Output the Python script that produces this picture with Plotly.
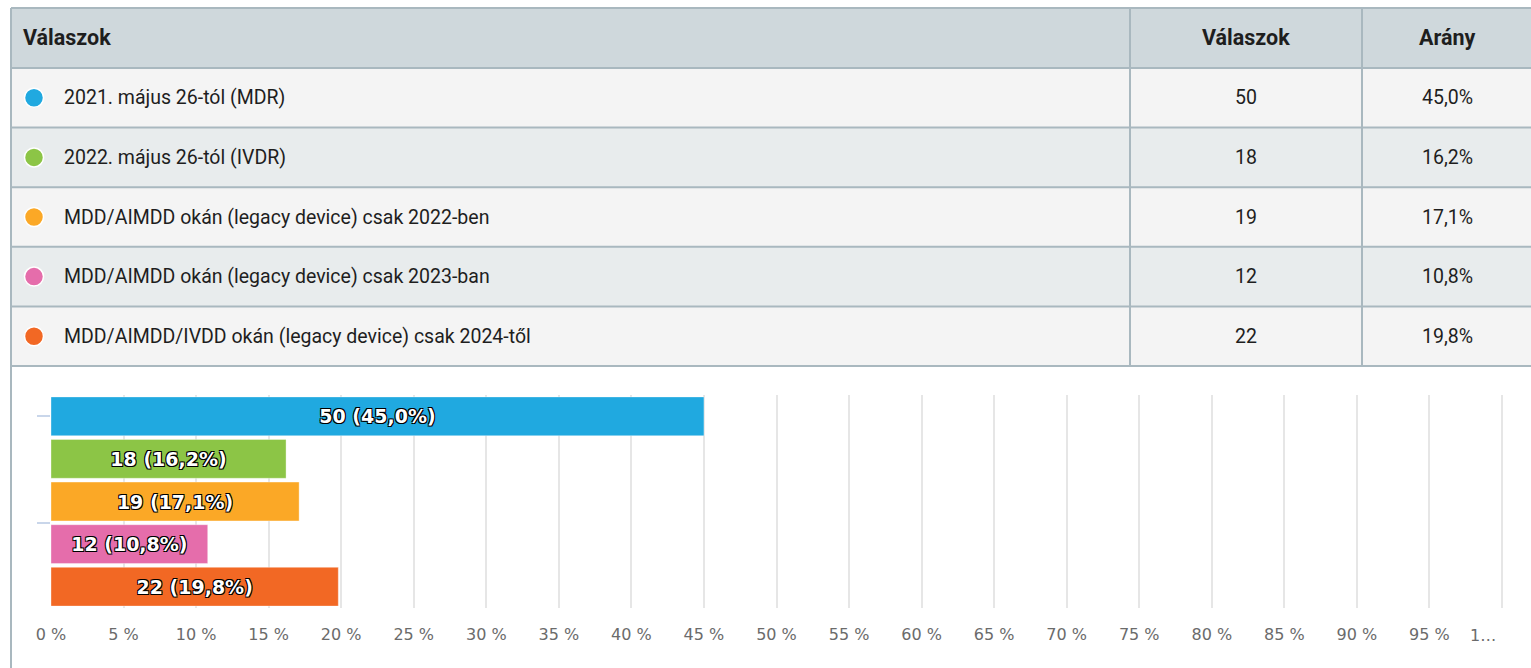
import plotly.graph_objects as go

# Survey answers and results
answers = [
    "2021. május 26-tól (MDR)",
    "2022. május 26-tól (IVDR)",
    "MDD/AIMDD okán (legacy device) csak 2022-ben",
    "MDD/AIMDD okán (legacy device) csak 2023-ban",
    "MDD/AIMDD/IVDD okán (legacy device) csak 2024-től",
]
counts = [50, 18, 19, 12, 22]
shares = [45.0, 16.2, 17.1, 10.8, 19.8]
colors = ["#20a9e0", "#8cc546", "#fba826", "#e56dab", "#f26824"]
header = ["Válaszok", "Válaszok", "Arány"]
tick_values = list(range(0, 101, 5))
tick_labels = [f"{v} %" for v in range(0, 100, 5)] + [""]
last_tick_label = "1…"  # truncated "100 %" label, drawn separately

W, H = 1531, 668


def fx(px):
    return px / W


def fy(py):
    return 1 - py / H


def hu(v):
    return f"{v:.1f}".replace(".", ",")


fig = go.Figure()

bar_labels = [f"{n} ({hu(p)}%)" for n, p in zip(counts, shares)]
fig.add_trace(go.Bar(
    x=shares,
    y=list(range(len(shares))),
    orientation="h",
    marker=dict(color=colors, line=dict(color="rgba(255,255,255,0.35)", width=1)),
    text=bar_labels,
    textposition="inside",
    insidetextanchor="middle",
    textangle=0,
    textfont=dict(
        family="DejaVu Sans", size=19, color="white", weight="bold",
        shadow="-1px -1px 0 #000, 1px -1px 0 #000, -1px 1px 0 #000, 1px 1px 0 #000",
    ),
    constraintext="none",
    hoverinfo="skip",
    width=0.91,
))

# Table geometry (pixels)
left, right = 11, W
col_x = [11, 1130, 1362, W]
row_y = [8, 68, 127.6, 187.2, 246.8, 306.4, 366]
border = "#a9b8bf"

shapes = []
# header background
shapes.append(dict(type="rect", xref="paper", yref="paper", x0=fx(left), x1=fx(right),
                   y0=fy(row_y[1]), y1=fy(row_y[0]), fillcolor="#cfd8dc", line=dict(width=0),
                   layer="below"))
for i in range(len(answers)):
    fill = "#f4f4f4" if i % 2 == 0 else "#e8eced"
    shapes.append(dict(type="rect", xref="paper", yref="paper", x0=fx(left), x1=fx(right),
                       y0=fy(row_y[i + 2]), y1=fy(row_y[i + 1]), fillcolor=fill,
                       line=dict(width=0), layer="below"))
# horizontal rules
for yy in row_y:
    shapes.append(dict(type="line", xref="paper", yref="paper", x0=fx(left), x1=fx(right),
                       y0=fy(yy), y1=fy(yy), line=dict(color=border, width=2)))
# vertical rules
for xx in col_x[1:3]:
    shapes.append(dict(type="line", xref="paper", yref="paper", x0=fx(xx), x1=fx(xx),
                       y0=fy(row_y[-1]), y1=fy(row_y[0]), line=dict(color=border, width=2)))
# outer left frame running down past the chart
shapes.append(dict(type="line", xref="paper", yref="paper", x0=fx(11), x1=fx(11),
                   y0=0, y1=fy(row_y[0]), line=dict(color=border, width=2)))
# legend dots
for i, c in enumerate(colors):
    cy = (row_y[i + 1] + row_y[i + 2]) / 2
    shapes.append(dict(type="circle", xref="paper", yref="paper",
                       xsizemode="pixel", ysizemode="pixel",
                       xanchor=fx(34), yanchor=fy(cy),
                       x0=-9.5, x1=9.5, y0=-9.5, y1=9.5,
                       fillcolor=c, line=dict(color="white", width=1.5)))

table_font = "Roboto, DejaVu Sans Condensed, sans-serif"
annotations = []


def cell(text, px, py, anchor, size=19.5):
    annotations.append(dict(text=text, x=fx(px), y=fy(py), xref="paper", yref="paper",
                            xanchor=anchor, yanchor="middle", showarrow=False,
                            font=dict(family=table_font, size=size, color="#1e1e1e")))


hy = (row_y[0] + row_y[1]) / 2
cell(f"<b>{header[0]}</b>", 21, hy, "left", 21.5)
cell(f"<b>{header[1]}</b>", 1246, hy, "center", 21.5)
cell(f"<b>{header[2]}</b>", 1447, hy, "center", 21.5)
for i, (a, n, p) in enumerate(zip(answers, counts, shares)):
    cy = (row_y[i + 1] + row_y[i + 2]) / 2
    cell(a, 62, cy, "left")
    cell(str(n), 1246, cy, "center")
    cell(f"{hu(p)}%", 1447, cy, "center")

# clipped label of the last tick
annotations.append(dict(text=last_tick_label, x=tick_values[-1], xref="x", xshift=-19,
                        y=fy(635), yref="paper", yanchor="middle", showarrow=False,
                        font=dict(family="DejaVu Sans", size=16, color="#6b6b6b")))

fig.update_layout(
    width=W, height=H,
    margin=dict(l=0, r=0, t=0, b=0, autoexpand=False),
    paper_bgcolor="white", plot_bgcolor="white",
    showlegend=False,
    bargap=0.09,
    shapes=shapes,
    annotations=annotations,
    xaxis=dict(
        # a hair past 100 so the last gridline is drawn
        domain=[fx(51), fx(1504.9)], range=[0, 100.2],
        tickvals=tick_values, ticktext=tick_labels,
        showgrid=True, gridcolor="#e6e6e6", gridwidth=2,
        zeroline=False, showline=False, automargin=False,
        ticks="outside", ticklen=12, tickcolor="rgba(0,0,0,0)",
        tickfont=dict(family="DejaVu Sans", size=16, color="#6b6b6b"),
        fixedrange=True,
    ),
    yaxis=dict(
        domain=[fy(608), fy(395)], range=[4.5, -0.5],
        tickvals=[0, 2.5], showticklabels=False, automargin=False,
        ticks="outside", ticklen=13, tickcolor="#c9d6ea", tickwidth=2,
        showgrid=False, zeroline=False, showline=False,
        fixedrange=True,
    ),
)

fig.write_html("out.html", config={"displayModeBar": False})
